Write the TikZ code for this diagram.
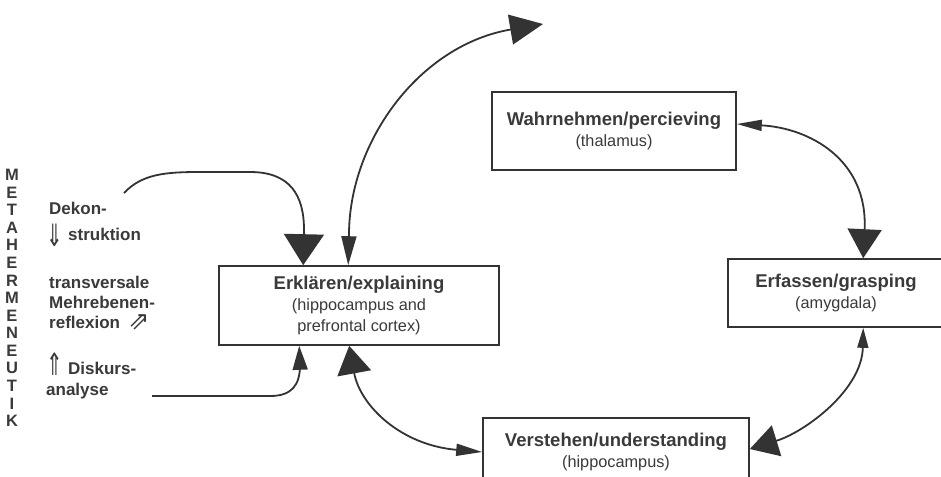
\documentclass[tikz,border=0pt]{standalone}
\usepackage{fontspec}
\setmainfont{Liberation Sans}
\newfontfamily\symfont{DejaVu Sans}
\usetikzlibrary{arrows.meta}
\definecolor{ink}{HTML}{3A3A3A}
\definecolor{lineink}{HTML}{333333}
\begin{document}
\begin{tikzpicture}[x=1pt,y=-1pt,
  box/.style={draw=lineink, line width=1.6pt, text=ink, align=center, inner sep=0pt,
    font=\fontsize{16.3}{21}\selectfont},
  conn/.style={draw=lineink, line width=1.8pt},
  lt/.style={text=ink, inner sep=0pt, font=\bfseries\fontsize{17}{20}\selectfont},
  sym/.style={text=ink, inner sep=0pt, font=\symfont\fontsize{22}{22}\selectfont}]
\useasboundingbox (0,0) rectangle (941,476);
\clip (0,0) rectangle (941,476);
\fill[white] (0,0) rectangle (941,476);

% boxes
\node[box, minimum width=244pt, minimum height=78pt] (wahr) at (614,131)
  {{\bfseries\fontsize{18.5}{21}\selectfont Wahrnehmen/percieving}\\(thalamus)};
\node[box, minimum width=280pt, minimum height=79pt] (ekl) at (359,305.5)
  {{\bfseries\fontsize{18.5}{21}\selectfont Erklären/explaining}\\(hippocampus and\\prefrontal cortex)};
\node[box, minimum width=216pt, minimum height=68pt] (erf) at (836,293)
  {{\bfseries\fontsize{18.5}{21}\selectfont Erfassen/grasping}\\(amygdala)};
\node[box, minimum width=266pt, minimum height=68pt] (ver) at (616,452)
  {{\bfseries\fontsize{18.5}{21}\selectfont Verstehen/understanding}\\(hippocampus)};

% vertical word
\node[text=ink, inner sep=0pt, align=center, font=\bfseries\fontsize{16.5}{17.57}\selectfont] (meta) at (12,298)
  {M\\E\\T\\A\\H\\E\\R\\M\\E\\N\\E\\U\\T\\I\\K};

% left column
\node[lt, anchor=base west] (dekon) at (49,214) {Dekon-};
\node[sym] (darr) at (55,235) {\scalebox{0.9}[1.4]{⇓}};
\node[lt, anchor=base west] (strukt) at (68,240) {struktion};
\node[lt, anchor=base west] (trans) at (49,288) {transversale};
\node[lt, anchor=base west] (mehr) at (49,308) {Mehrebenen-};
\node[lt, anchor=base west] (refl) at (49,328) {reflexion};
\node[sym] (nearr) at (139,322) {\scalebox{1.15}{⇗}};
\node[sym] (uarr) at (55,364) {\scalebox{0.9}[1.4]{⇑}};
\node[lt, anchor=base west] (disk) at (68,374) {Diskurs-};
\node[lt, anchor=base west] (anal) at (46,395) {analyse};

\coordinate (dk) at (124,193);
\coordinate (dg) at (152,396);
\coordinate (top) at (543,24);

% connectors
\draw[conn, arrows={-Triangle[length=31pt,width=40pt]}] (dk)
  .. controls (142,174) and (165,172) .. (200,172) -- (250,172)
  .. controls (290,172) and (304,195) .. (304,230) -- ([xshift=85pt]ekl.north west);
\draw[conn, arrows={-Triangle[length=24pt,width=15pt]}] (dg) -- (270,396)
  .. controls (292,396) and (300,385) .. (300,365) -- ([xshift=81pt]ekl.south west);
\draw[conn, arrows={Triangle[length=29pt,width=15pt]-Triangle[length=33pt,width=30pt]}]
  ([xshift=130pt]ekl.north west) -- (349,233) .. controls (350,140) and (420,45) .. (top);
\draw[conn, arrows={Triangle[length=28pt,width=34pt]-Triangle[length=26pt,width=12pt]}]
  ([xshift=131pt]ekl.south west) .. controls (360,405) and (400,445) .. (ver.west);
\draw[conn, arrows={Triangle[length=25pt,width=11pt]-Triangle[length=29pt,width=34pt]}]
  ([yshift=7pt]wahr.east) .. controls (810,128) and (868,160) .. ([xshift=136pt]erf.north west);
\draw[conn, arrows={Triangle[length=20pt,width=11pt]-Triangle[length=28pt,width=32pt]}]
  ([xshift=136pt]erf.south west) .. controls (862,390) and (805,432) .. ([yshift=3pt]ver.east);
\end{tikzpicture}
\end{document}
